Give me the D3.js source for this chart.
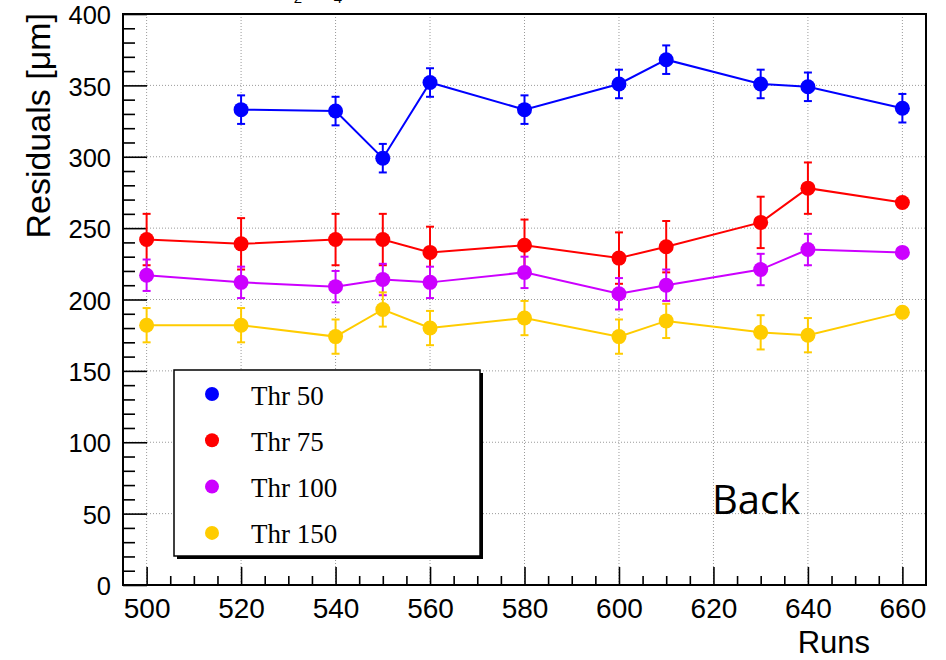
<!DOCTYPE html>
<html>
<head>
<meta charset="utf-8">
<script src="https://cdn.jsdelivr.net/npm/d3@7"></script>
<style>
  html, body { margin: 0; padding: 0; background: #fff; }
  svg { display: block; }
</style>
</head>
<body>
<div id="chart"></div>
<script>
// Run numbers
const runsThr50 = [520, 540, 550, 560, 580, 600, 610, 630, 640, 660];
const runsOther = [500, 520, 540, 550, 560, 580, 600, 610, 630, 640, 660];

// Residuals [um] and their errors
const thr50 = [333, 332, 299, 352, 333, 351, 368, 351, 349, 334];
const thr50Err = [10, 10, 10, 10, 10, 10, 10, 10, 10, 10];
const thr75 = [242, 239, 242, 242, 233, 238, 229, 237, 254, 278, 268];
const thr75Err = [18, 18, 18, 18, 18, 18, 18, 18, 18, 18, 0];
const thr100 = [217, 212, 209, 214, 212, 219, 204, 210, 221, 235, 233];
const thr100Err = [11, 11, 11, 11, 11, 11, 11, 11, 11, 11, 0];
const thr150 = [182, 182, 174, 193, 180, 187, 174, 185, 177, 175, 191];
const thr150Err = [12, 12, 12, 12, 12, 12, 12, 12, 12, 12, 0];

const seriesNames = ['Thr 50', 'Thr 75', 'Thr 100', 'Thr 150'];
const seriesColors = ['#0000ff', '#ff0000', '#cc00ff', '#ffcc00'];

const xTicks = [500, 520, 540, 560, 580, 600, 620, 640, 660];
const yTicks = [0, 50, 100, 150, 200, 250, 300, 350, 400];

const series = [
  { name: seriesNames[0], color: seriesColors[0], x: runsThr50, y: thr50, e: thr50Err },
  { name: seriesNames[1], color: seriesColors[1], x: runsOther, y: thr75, e: thr75Err },
  { name: seriesNames[2], color: seriesColors[2], x: runsOther, y: thr100, e: thr100Err },
  { name: seriesNames[3], color: seriesColors[3], x: runsOther, y: thr150, e: thr150Err }
];

const W = 946, H = 660;
const frame = { left: 123, right: 926, top: 14, bottom: 585 };

const svg = d3.select('#chart')
  .append('svg')
  .attr('width', W)
  .attr('height', H);

const x = d3.scaleLinear().domain([495, 665]).range([frame.left, frame.right]);
const y = d3.scaleLinear().domain([0, 400]).range([frame.bottom, frame.top]);

// partial title, cut off by the top of the picture
svg.append('text').attr('x', 298).attr('y', 3)
  .attr('text-anchor', 'middle')
  .style('font-family', 'Liberation Sans, Arial, sans-serif')
  .style('font-size', '15px').text('2');
svg.append('text').attr('x', 338).attr('y', 3)
  .attr('text-anchor', 'middle')
  .style('font-family', 'Liberation Sans, Arial, sans-serif')
  .style('font-size', '15px').text('4');

// dotted grid
const grid = svg.append('g')
  .attr('stroke', '#9a9a9a')
  .attr('stroke-width', 1)
  .attr('stroke-dasharray', '1,2');
grid.selectAll('line.gx')
  .data(xTicks)
  .enter().append('line')
  .attr('x1', d => x(d)).attr('x2', d => x(d))
  .attr('y1', frame.top).attr('y2', frame.bottom);
grid.selectAll('line.gy')
  .data(yTicks.filter(d => d > 0 && d < 400))
  .enter().append('line')
  .attr('x1', frame.left).attr('x2', frame.right)
  .attr('y1', d => y(d)).attr('y2', d => y(d));

// axes
const xAxis = d3.axisBottom(x)
  .tickValues(xTicks)
  .tickSize(-18)
  .tickPadding(10)
  .tickFormat(d3.format('d'));
const xMinor = d3.axisBottom(x)
  .tickValues(d3.range(500, 665, 5).filter(d => d % 20 !== 0))
  .tickSize(-9)
  .tickFormat('');
const yAxis = d3.axisLeft(y)
  .tickValues(yTicks)
  .tickSize(-24)
  .tickPadding(12)
  .tickFormat(d3.format('d'));
const yMinor = d3.axisLeft(y)
  .tickValues(d3.range(10, 400, 10).filter(d => d % 50 !== 0))
  .tickSize(-12)
  .tickFormat('');

function styleAxis(g, fontSize) {
  g.select('.domain').remove();
  g.selectAll('.tick line').attr('stroke', '#000').attr('stroke-width', 1.6);
  g.selectAll('.tick text')
    .attr('fill', '#000')
    .style('font-family', 'Liberation Sans, Arial, Helvetica, sans-serif')
    .style('font-size', fontSize);
}

svg.append('g').attr('transform', `translate(0,${frame.bottom})`)
  .call(xMinor).call(g => styleAxis(g, '28px'));
const gx = svg.append('g').attr('transform', `translate(0,${frame.bottom})`)
  .call(xAxis).call(g => styleAxis(g, '28px'));
gx.selectAll('.tick text').attr('y', 33).attr('dy', 0);

svg.append('g').attr('transform', `translate(${frame.left},0)`)
  .call(yMinor).call(g => styleAxis(g, '25.5px'));
const gy = svg.append('g').attr('transform', `translate(${frame.left},0)`)
  .call(yAxis).call(g => styleAxis(g, '25.5px'));
gy.selectAll('.tick text').attr('x', -12).attr('dy', '0.38em');

// frame
svg.append('rect')
  .attr('x', frame.left).attr('y', frame.top)
  .attr('width', frame.right - frame.left)
  .attr('height', frame.bottom - frame.top)
  .attr('fill', 'none')
  .attr('stroke', '#000')
  .attr('stroke-width', 2);

// axis titles
svg.append('text')
  .attr('transform', 'translate(50,13) rotate(-90)')
  .attr('text-anchor', 'end')
  .style('font-family', 'Liberation Sans, Arial, Helvetica, sans-serif')
  .style('font-size', '34px')
  .text('Residuals [\u03bcm]');

svg.append('text')
  .attr('x', 870).attr('y', 653)
  .attr('text-anchor', 'end')
  .style('font-family', 'Liberation Sans, Arial, Helvetica, sans-serif')
  .style('font-size', '31px')
  .text('Runs');

// series: lines, error bars, markers
const line = d3.line().x(d => x(d.run)).y(d => y(d.val));

series.forEach(s => {
  const pts = s.x.map((r, i) => ({ run: r, val: s.y[i], err: s.e[i] }));
  const g = svg.append('g');

  g.append('path')
    .datum(pts)
    .attr('d', line)
    .attr('fill', 'none')
    .attr('stroke', s.color)
    .attr('stroke-width', 2);

  const withErr = pts.filter(d => d.err > 0);
  g.selectAll('line.err')
    .data(withErr)
    .enter().append('line')
    .attr('x1', d => x(d.run)).attr('x2', d => x(d.run))
    .attr('y1', d => y(d.val + d.err)).attr('y2', d => y(d.val - d.err))
    .attr('stroke', s.color).attr('stroke-width', 2);
  [1, -1].forEach(sign => {
    g.selectAll('line.cap' + sign)
      .data(withErr)
      .enter().append('line')
      .attr('x1', d => x(d.run) - 4).attr('x2', d => x(d.run) + 4)
      .attr('y1', d => y(d.val + sign * d.err)).attr('y2', d => y(d.val + sign * d.err))
      .attr('stroke', s.color).attr('stroke-width', 2);
  });

  g.selectAll('circle')
    .data(pts)
    .enter().append('circle')
    .attr('cx', d => x(d.run))
    .attr('cy', d => y(d.val))
    .attr('r', 7.5)
    .attr('fill', s.color);
});

// legend (box with shadow)
const lg = svg.append('g');
lg.append('rect')
  .attr('x', 177).attr('y', 373)
  .attr('width', 306).attr('height', 186)
  .attr('fill', '#000');
lg.append('rect')
  .attr('x', 174).attr('y', 370)
  .attr('width', 306).attr('height', 186)
  .attr('fill', '#fff')
  .attr('stroke', '#000')
  .attr('stroke-width', 1.5);

lg.selectAll('circle')
  .data(series)
  .enter().append('circle')
  .attr('cx', 212)
  .attr('cy', (d, i) => 394 + i * 46.3)
  .attr('r', 7)
  .attr('fill', d => d.color);

lg.selectAll('text')
  .data(series)
  .enter().append('text')
  .attr('x', 251)
  .attr('y', (d, i) => 404.5 + i * 46.3)
  .style('font-family', 'Liberation Serif, Times New Roman, serif')
  .style('font-size', '27px')
  .text(d => d.name);

// annotation
svg.append('text')
  .attr('x', 712).attr('y', 514)
  .style('font-family', 'Open Sans, sans-serif')
  .style('font-size', '40px')
  .text('Back');
</script>
</body>
</html>
